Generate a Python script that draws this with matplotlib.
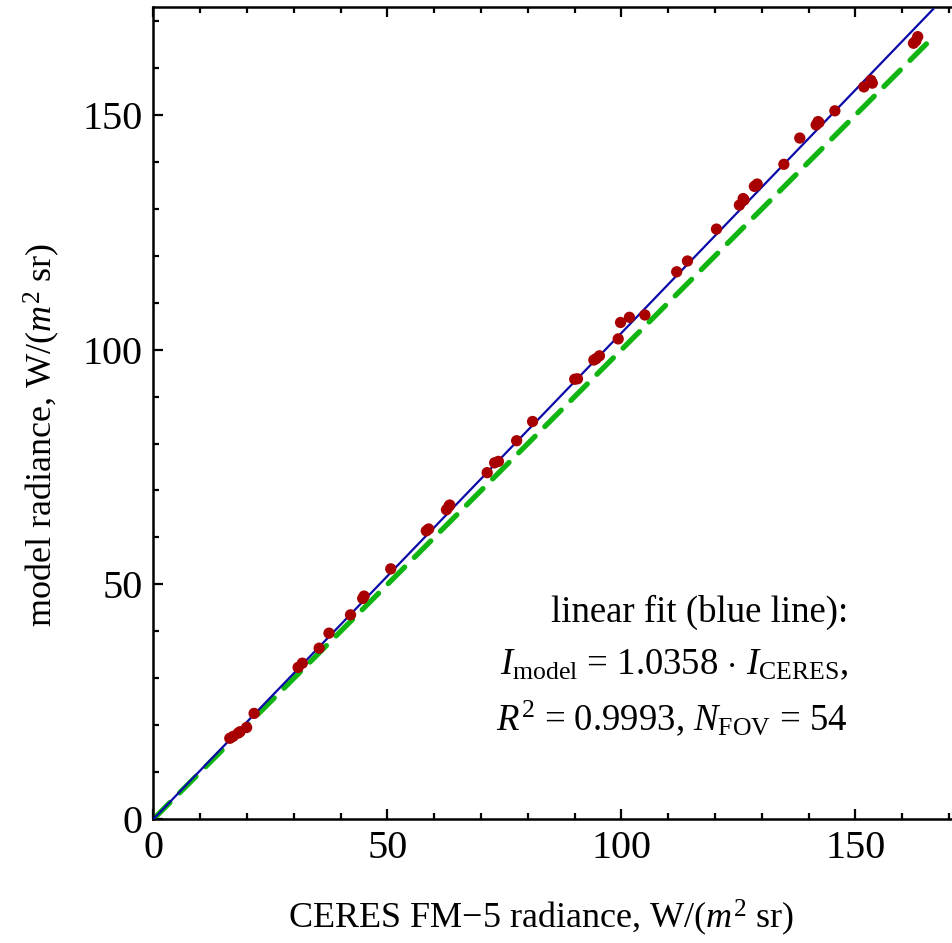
import matplotlib
matplotlib.use("Agg")
import matplotlib.pyplot as plt
from matplotlib.ticker import MultipleLocator
import numpy as np

# ---- data ----
ceres = [16.3, 17.0, 18.1, 18.5, 19.9, 21.5, 30.9, 31.8, 35.4, 37.5,
         42.1, 44.7, 45.0, 50.7, 58.3, 58.8, 62.6, 63.1, 63.3, 71.3,
         72.9, 73.7, 77.6, 81.0, 90.0, 90.6, 94.1, 94.6, 95.3, 99.3,
         99.8, 101.7, 105.0, 111.8, 114.1, 120.3, 125.2, 126.0, 126.2, 128.4,
         128.8, 129.0, 134.7, 138.1, 141.6, 142.0, 142.2, 145.6, 151.8, 153.3,
         153.6, 162.4, 162.9, 163.3]
model = [17.2, 17.6, 18.3, 18.6, 19.5, 22.5, 32.3, 33.2, 36.4, 39.6,
         43.5, 47.0, 47.5, 53.3, 61.4, 61.8, 65.9, 66.6, 66.9, 73.8,
         75.9, 76.2, 80.6, 84.7, 93.7, 93.8, 97.8, 98.1, 98.7, 102.3,
         105.8, 106.9, 107.4, 116.6, 118.9, 125.7, 130.8, 132.2, 131.9, 134.8,
         135.0, 135.3, 139.5, 145.1, 147.9, 148.6, 148.4, 150.9, 156.0, 157.4,
         156.8, 165.3, 165.8, 166.7]
fit_slope = 1.0358
r_squared = 0.9993
n_fov = 54
line_x = [0.0, 166.6]
axis_max = 173.0

plt.rcParams['font.family'] = ['Liberation Serif', 'DejaVu Serif']
plt.rcParams['mathtext.fontset'] = 'custom'
plt.rcParams['mathtext.rm'] = 'Liberation Serif'
plt.rcParams['mathtext.it'] = 'Liberation Serif:italic'

W, H = 953, 943
fig = plt.figure(figsize=(W / 100, H / 100), dpi=100)
ax = fig.add_axes([153.5 / W, 124 / H, 809.6 / W, 811.9 / H])

lx = np.array(line_x)
ax.plot(lx, lx, color='#11b511', lw=3.8, ls=(0, (4.4, 2.6)), dash_capstyle='round', zorder=2)
ax.plot(lx, fit_slope * lx, color='#0a0aa8', lw=1.6, zorder=3)
ax.scatter(ceres, model, s=66, color='#a80000', edgecolors='none', zorder=4)

ax.set_xlim(0, axis_max)
ax.set_ylim(0, axis_max)
ax.xaxis.set_major_locator(MultipleLocator(50))
ax.yaxis.set_major_locator(MultipleLocator(50))
ax.xaxis.set_minor_locator(MultipleLocator(10))
ax.yaxis.set_minor_locator(MultipleLocator(10))
ax.tick_params(which='both', direction='in', top=True, right=True, width=1.6,
               labelsize=29, pad=8)
ax.tick_params(which='major', length=7.5)
ax.tick_params(which='minor', length=4.3)
for sp in ax.spines.values():
    sp.set_linewidth(1.8)

fig.text(541 / W, 1 - 918 / H, r"CERES FM$-$5 radiance, W/($m^2$ sr)", fontsize=26,
         ha='center', va='center')
fig.text(42 / W, 1 - 435 / H, r"model radiance, W/($m^2$ sr)", fontsize=26,
         ha='center', va='center', rotation=90)

tx = 848 / W
fig.text(tx, 1 - 612 / H, "linear fit (blue line):", fontsize=26.5, ha='right', va='center')
fig.text(tx, 1 - 665 / H, r"$I_{\mathrm{model}}$ = %.4f $\cdot$ $I_{\mathrm{CERES}}$," % fit_slope,
         fontsize=26.5, ha='right', va='center')
fig.text(tx, 1 - 718 / H, r"$R^2$ = %.4f, $N_{\mathrm{FOV}}$ = %d" % (r_squared, n_fov),
         fontsize=26.5, ha='right', va='center')

fig.savefig("out.png", dpi=100)
